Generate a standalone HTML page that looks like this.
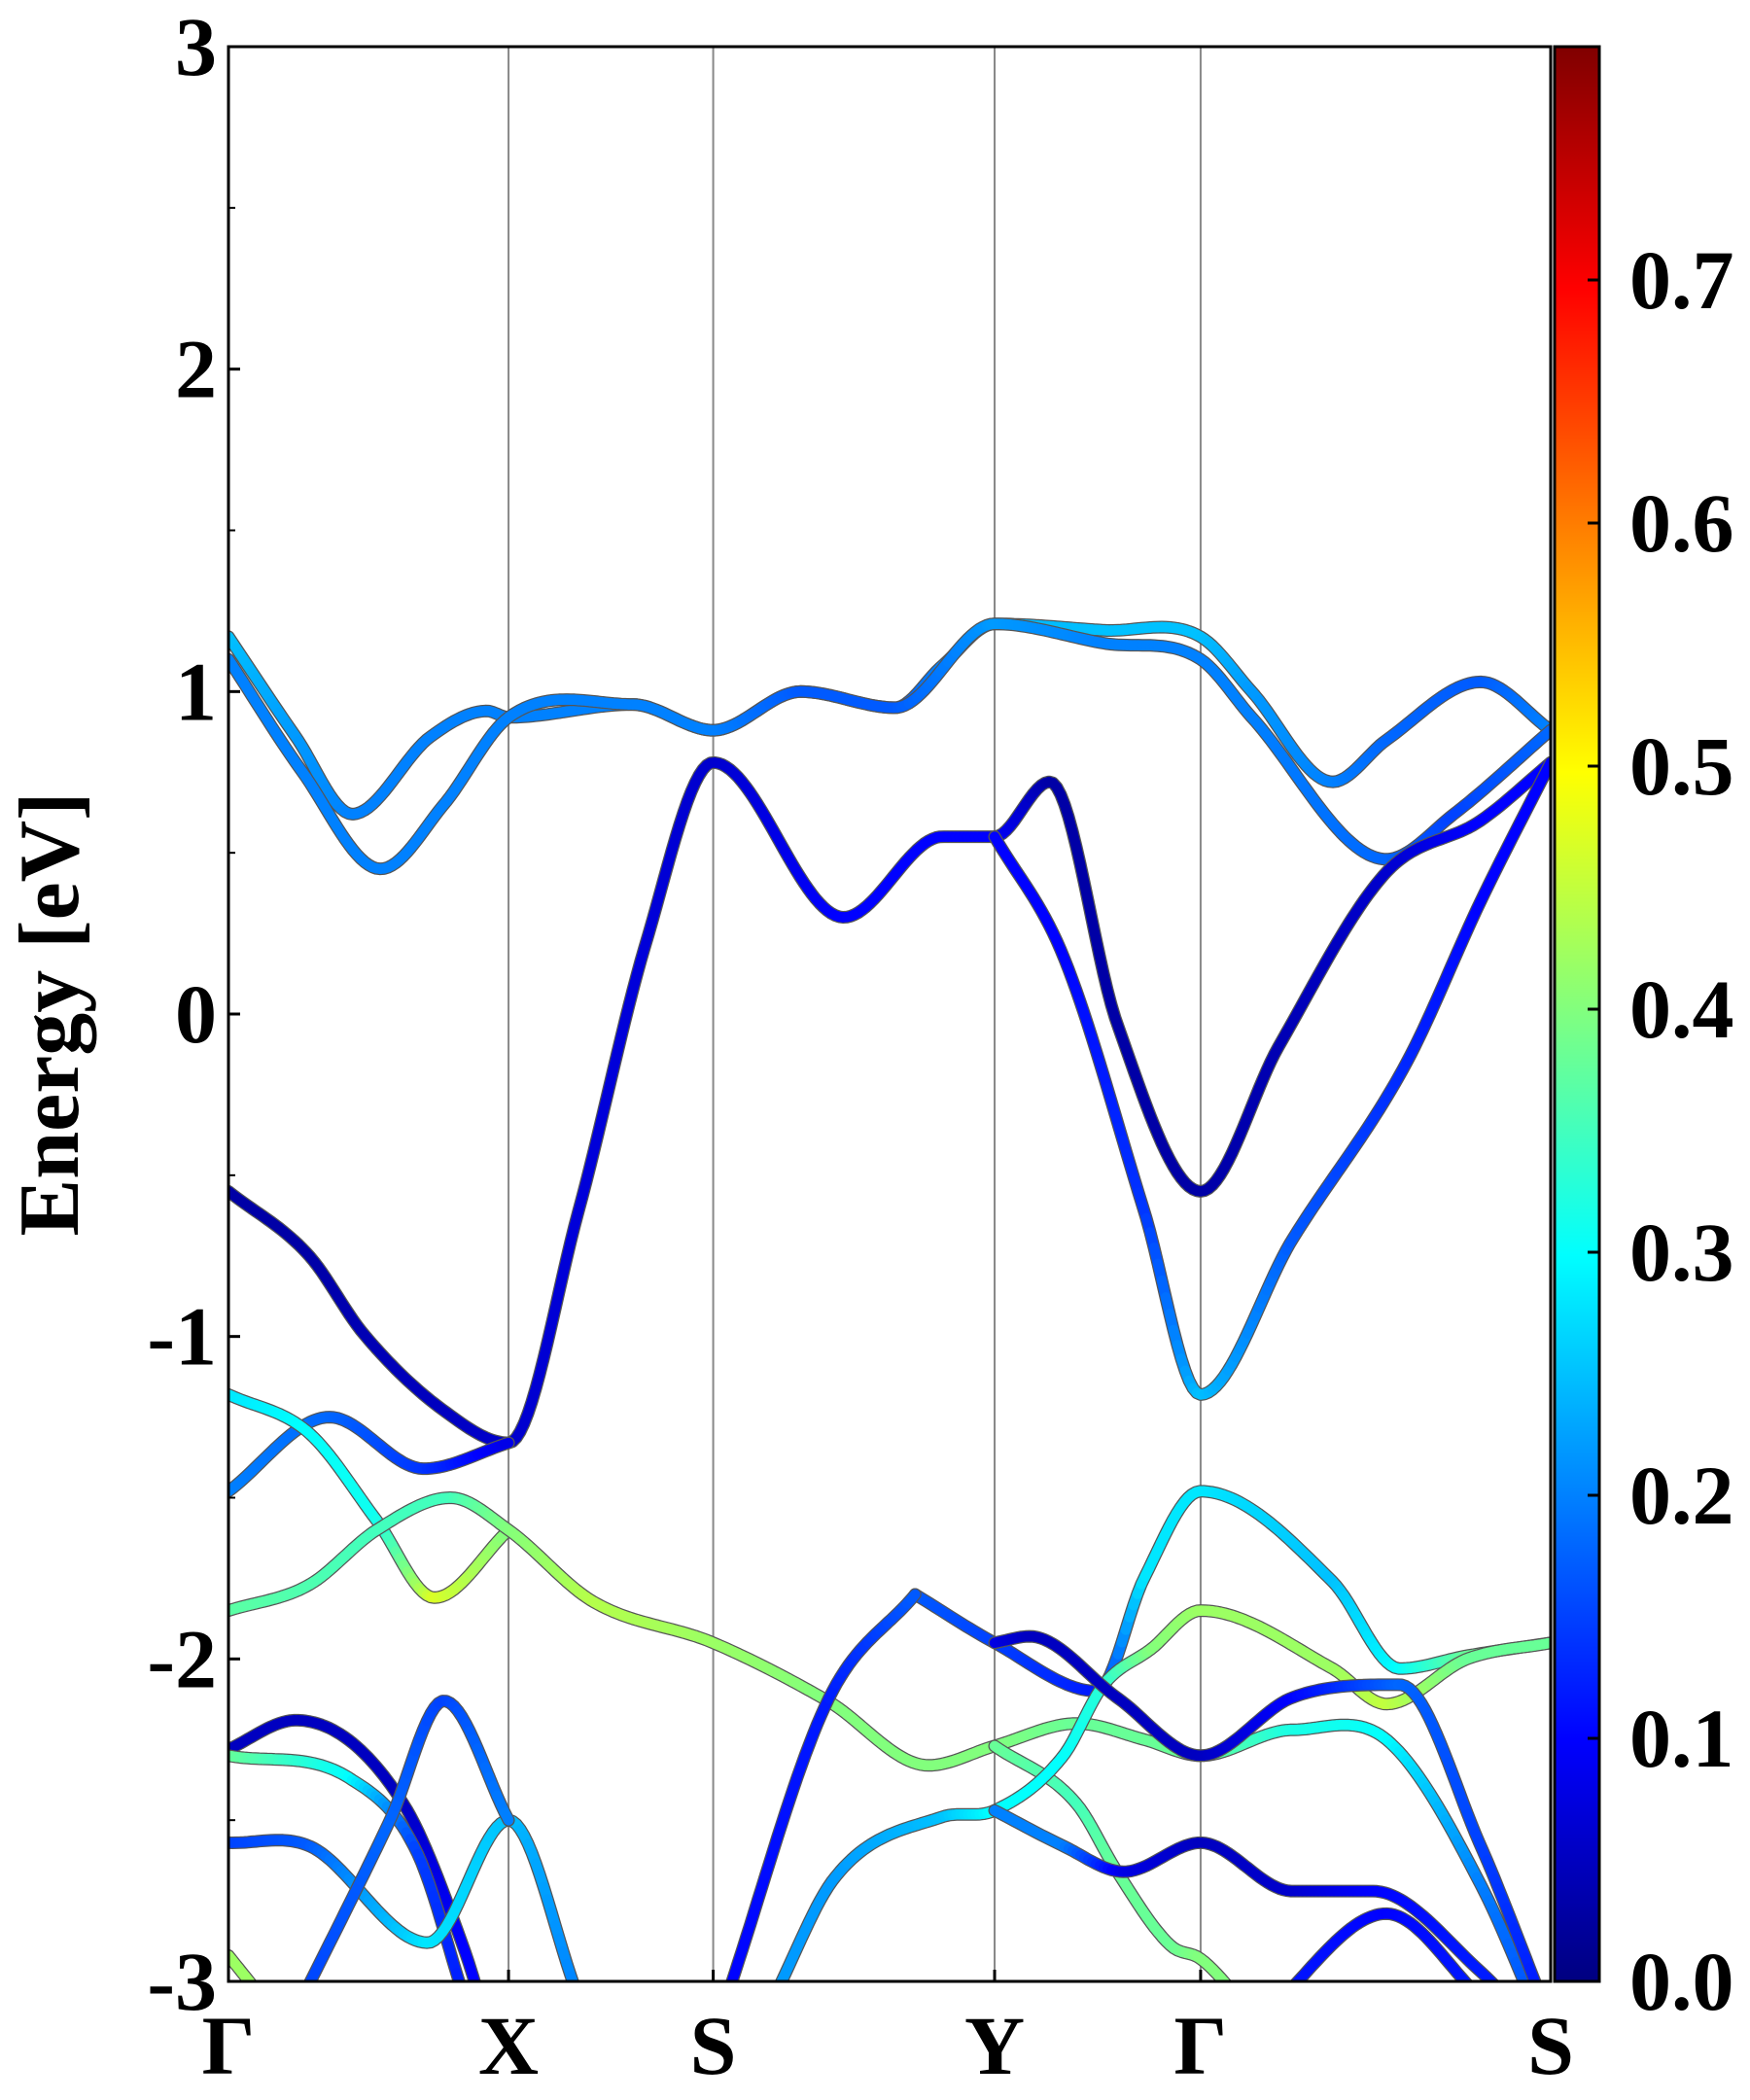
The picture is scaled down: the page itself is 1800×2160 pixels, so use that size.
<!DOCTYPE html>
<html><head><meta charset="utf-8">
<style>
html,body{margin:0;padding:0;background:#fff;}
svg{display:block;font-family:"Liberation Serif",serif;font-weight:bold;}
</style></head>
<body>
<svg id="chart" width="1800" height="2160" viewBox="0 0 1800 2160" xmlns="http://www.w3.org/2000/svg">
<defs>
<clipPath id="plotclip"><rect x="235" y="48" width="1360" height="1990"/></clipPath>
<linearGradient id="jet" x1="0" y1="1" x2="0" y2="0"></linearGradient>
</defs>
<g id="gridlines"></g>
<g id="bandsLayer" clip-path="url(#plotclip)"></g>
<rect x="235" y="48" width="1360" height="1990" fill="none" stroke="#000" stroke-width="3"/>
<g id="yaxis"></g>
<g id="xaxis"></g>
<text transform="translate(80,1043) rotate(-90)" text-anchor="middle" font-size="88">Energy [eV]</text>
<g id="cbar">
<rect x="1599" y="48" width="46" height="1990" fill="url(#jet)" stroke="#000" stroke-width="3"/>
</g>
</svg>
<script>
const kTicks = [0, 2.08, 3.60, 5.69, 7.22, 9.82];
const kLabels = ["Γ","X","S","Y","Γ","S"];
const yTicks = [-3,-2,-1,0,1,2,3];
const cbTicks = [0.0,0.1,0.2,0.3,0.4,0.5,0.6,0.7];
const cbMax = 0.796;
// bands: [k, energy(eV), weight]
const bandC1 = [[0,1.17,0.25],[0.5,0.86,0.22],[0.92,0.62,0.2],[1.5,0.86,0.2],[1.92,0.94,0.2],[2.08,0.92,0.2],[3.0,0.96,0.2],[3.6,0.88,0.2],[4.25,1.0,0.17],[4.95,0.95,0.17],[5.3,1.08,0.2],[5.69,1.21,0.24],[6.5,1.19,0.25],[7.22,1.17,0.25],[7.6,1.0,0.22],[8.2,0.72,0.2],[8.6,0.85,0.18],[9.3,1.03,0.17],[9.82,0.88,0.2]];
const bandC2 = [[0,1.10,0.2],[0.55,0.75,0.2],[1.13,0.45,0.2],[1.6,0.65,0.2],[2.08,0.92,0.2],[3.0,0.96,0.2],[3.6,0.88,0.2],[4.25,1.0,0.17],[4.95,0.95,0.17],[5.69,1.21,0.22],[6.5,1.15,0.2],[7.22,1.10,0.2],[7.6,0.92,0.2],[8.6,0.48,0.18],[9.1,0.62,0.15],[9.82,0.88,0.18]];
const bandV1 = [[0,-0.55,0.03],[0.6,-0.75,0.03],[1.0,-0.99,0.04],[1.6,-1.23,0.05],[2.08,-1.33,0.06],[2.6,-0.61,0.07],[3.1,0.22,0.07],[3.6,0.78,0.06],[4.57,0.30,0.1],[5.3,0.55,0.1],[5.69,0.55,0.1],[6.1,0.72,0.03],[6.6,-0.03,0.03],[7.22,-0.55,0.03],[7.8,-0.1,0.04],[8.6,0.44,0.06],[9.3,0.6,0.1],[9.82,0.78,0.1]];
const bandV2 = [[5.69,0.55,0.1],[6.2,0.18,0.1],[6.8,-0.61,0.14],[7.22,-1.18,0.25],[7.9,-0.70,0.17],[8.75,-0.15,0.13],[9.3,0.35,0.1],[9.82,0.78,0.1]];
const bandV3 = [[0,-1.48,0.2],[0.75,-1.25,0.18],[1.45,-1.41,0.14],[2.08,-1.33,0.08]];
const bandV4 = [[0,-1.18,0.28],[0.6,-1.3,0.3],[1.1,-1.57,0.31],[1.53,-1.81,0.47],[2.08,-1.60,0.4]];
const bandV5 = [[0,-1.85,0.37],[0.6,-1.77,0.36],[1.1,-1.60,0.35],[1.65,-1.50,0.35],[2.08,-1.60,0.4],[2.7,-1.82,0.44],[3.6,-1.95,0.42],[4.45,-2.13,0.4],[5.2,-2.33,0.4],[5.69,-2.27,0.4],[6.3,-2.20,0.38],[6.8,-2.25,0.38],[7.22,-2.30,0.38],[7.9,-2.22,0.32],[8.6,-2.25,0.3],[9.3,-2.70,0.2],[9.82,-3.2,0.15]];
const bandV6 = [[5.69,-2.27,0.38],[6.3,-2.45,0.35],[6.6,-2.66,0.38],[7.0,-2.89,0.38],[7.22,-2.93,0.4],[7.6,-3.1,0.4]];
const bandV7 = [[5.1,-1.80,0.17],[5.69,-1.95,0.15],[6.45,-2.10,0.12],[6.8,-1.75,0.28],[7.22,-1.48,0.28],[8.2,-1.76,0.25],[8.7,-2.03,0.3],[9.2,-1.99,0.38],[9.82,-1.95,0.38]];
const bandV8 = [[3.7,-3.05,0.1],[4.45,-2.13,0.12],[5.1,-1.80,0.17]];
const bandV9 = [[4.05,-3.05,0.22],[4.5,-2.68,0.22],[5.3,-2.49,0.25],[5.69,-2.47,0.3],[6.2,-2.30,0.3],[6.5,-2.08,0.33],[6.85,-1.97,0.4],[7.22,-1.85,0.42],[8.2,-2.03,0.42],[8.6,-2.14,0.45],[9.2,-2.0,0.38],[9.82,-1.95,0.38]];
const bandV10 = [[5.69,-1.95,0.08],[5.95,-1.93,0.05],[6.6,-2.12,0.05],[7.22,-2.30,0.05],[7.9,-2.12,0.1],[8.7,-2.08,0.18],[9.3,-2.58,0.15],[9.75,-3.05,0.12]];
const bandV11 = [[5.69,-2.47,0.2],[6.2,-2.58,0.2],[6.65,-2.66,0.08],[7.22,-2.57,0.05],[7.9,-2.72,0.06],[8.5,-2.72,0.1],[9.3,-2.97,0.12],[9.6,-3.1,0.12]];
const bandV12 = [[7.7,-3.1,0.12],[8.6,-2.79,0.1],[9.3,-3.05,0.12]];
const bandV13 = [[0,-2.28,0.05],[0.5,-2.19,0.05],[1.3,-2.45,0.05],[1.75,-2.9,0.1],[1.9,-3.1,0.1]];
const bandV14 = [[0,-2.30,0.38],[0.9,-2.37,0.3],[1.4,-2.6,0.15],[1.75,-3.05,0.12]];
const bandV15 = [[0,-2.57,0.15],[0.6,-2.58,0.17],[1.48,-2.88,0.28],[2.08,-2.50,0.25],[2.6,-3.05,0.2]];
const bandV16 = [[0.55,-3.05,0.15],[1.2,-2.5,0.18],[1.6,-2.13,0.15],[2.08,-2.50,0.2]];
const bandV17 = [[0,-2.92,0.42],[0.25,-3.05,0.42]];
const bands = [bandC1,bandC2,bandV1,bandV2,bandV3,bandV4,bandV5,bandV6,bandV7,bandV8,bandV9,bandV10,bandV11,bandV12,bandV13,bandV14,bandV15,bandV16,bandV17];

const L=235,R=1595,T=48,B=2038, NS="http://www.w3.org/2000/svg";
const xS = k => L + k/kTicks[kTicks.length-1]*(R-L);
const yS = e => T + (3-e)/6*(B-T);
const cbY = v => B - v/cbMax*(B-T);
function jetT(t){
  t=Math.max(0,Math.min(1,t));
  const c=x=>Math.max(0,Math.min(1,1.5-Math.abs(4*t-x)));
  return `rgb(${Math.round(255*c(3))},${Math.round(255*c(2))},${Math.round(255*c(1))})`;
}
const jet = v => jetT(v/cbMax);
function mk(tag,attrs,parent){const el=document.createElementNS(NS,tag);for(const a in attrs)el.setAttribute(a,attrs[a]);parent.appendChild(el);return el;}
const grad=document.getElementById('jet');
for(let i=0;i<=40;i++){mk('stop',{offset:i/40,"stop-color":jetT(i/40)},grad);}
function interp(pts){
  const n=pts.length,xs=pts.map(p=>p[0]),ys=pts.map(p=>p[1]);
  const d=[],m=[];
  for(let i=0;i<n-1;i++)d.push((ys[i+1]-ys[i])/(xs[i+1]-xs[i]));
  for(let i=0;i<n;i++){
    if(i===0)m.push(d[0]);else if(i===n-1)m.push(d[n-2]);
    else m.push(d[i-1]*d[i]<=0?0:(d[i-1]+d[i])/2);
  }
  return function(x){
    let i=0;while(i<n-2&&x>xs[i+1])i++;
    const h=xs[i+1]-xs[i],t=(x-xs[i])/h;
    const h00=2*t*t*t-3*t*t+1,h10=t*t*t-2*t*t+t,h01=-2*t*t*t+3*t*t,h11=t*t*t-t*t;
    const e=h00*ys[i]+h10*h*m[i]+h01*ys[i+1]+h11*h*m[i+1];
    const w=pts[i][2]+(pts[i+1][2]-pts[i][2])*t;
    return [e,w];
  };
}
const grid=document.getElementById('gridlines');
kTicks.slice(1,-1).forEach(k=>{
  const ln=mk('line',{x1:xS(k),x2:xS(k),y1:T,y2:B,stroke:'#888',"stroke-width":2},grid);
  
  
});
const layer=document.getElementById('bandsLayer');
bands.forEach((b,bi)=>{
  const f=interp(b),k0=b[0][0],k1=b[b.length-1][0];
  const g=mk('g',{},layer);
  
  
  const N=Math.max(10,Math.round((xS(k1)-xS(k0))/4));
  const P=[];
  for(let i=0;i<=N;i++){const k=k0+(k1-k0)*i/N;const r=f(k);P.push([xS(k),yS(r[0]),r[1]]);}
  mk('path',{d:'M'+P.map(p=>p[0].toFixed(1)+','+p[1].toFixed(1)).join('L'),fill:'none',stroke:'#555',"stroke-width":13,"stroke-linecap":"round","stroke-linejoin":"round"},g);
  for(let i=0;i<N;i++){
    mk('line',{x1:P[i][0].toFixed(1),y1:P[i][1].toFixed(1),x2:P[i+1][0].toFixed(1),y2:P[i+1][1].toFixed(1),stroke:jet((P[i][2]+P[i+1][2])/2),"stroke-width":10.5,"stroke-linecap":"round"},g);
  }
});
const ya=document.getElementById('yaxis');
yTicks.forEach(v=>{
  mk('line',{x1:L,x2:L+12,y1:yS(v),y2:yS(v),stroke:'#000',"stroke-width":3},ya);
  const t=mk('text',{x:L-12,y:yS(v)+29,"text-anchor":"end","font-size":86},ya);
  t.textContent=String(v);
  
  
});
for(let v=-2.5;v<3;v+=1) mk('line',{x1:L,x2:L+7,y1:yS(v),y2:yS(v),stroke:'#000',"stroke-width":2},ya);
const xa=document.getElementById('xaxis');
kTicks.forEach((k,i)=>{
  mk('line',{x1:xS(k),x2:xS(k),y1:B,y2:B-12,stroke:'#000',"stroke-width":3},xa);
  const t=mk('text',{x:xS(k),y:2133,"text-anchor":"middle","font-size":86},xa);
  t.textContent=kLabels[i];
  
  
});
const cb=document.getElementById('cbar');
cbTicks.forEach(v=>{
  mk('line',{x1:1633,x2:1645,y1:cbY(v),y2:cbY(v),stroke:'#000',"stroke-width":3},cb);
  const t=mk('text',{x:1676,y:cbY(v)+29,"font-size":86},cb);
  t.textContent=v.toFixed(1);
  
  
});
</script>
</body></html>
